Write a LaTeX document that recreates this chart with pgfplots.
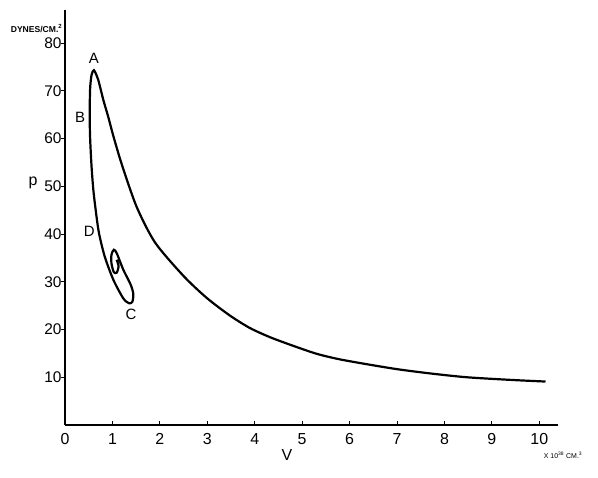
\documentclass[border=0pt]{standalone}
\usepackage{fontspec}
\setmainfont{Liberation Sans}
\usepackage{pgfplots}
\pgfplotsset{compat=1.18}
\begin{document}
\begin{tikzpicture}
\useasboundingbox (0,0) rectangle (598bp,478bp);
\begin{axis}[
  at={(65bp,53bp)}, anchor=south west,
  scale only axis, width=493.3bp, height=415.4bp,
  xmin=0, xmax=10.4, ymin=0, ymax=87,
  axis lines=left,
  axis line style={-, line width=1.4bp},
  xtick={0,1,...,10}, ytick={10,20,...,80},
  tick align=inside, major tick length=4bp,
  tick style={black, line width=1bp},
  ytick style={xshift=-4bp},
  /pgf/number format/assume math mode=true,
  yticklabel style={font=\fontsize{15.5}{15.5}\selectfont},
  xticklabel style={font=\fontsize{16}{16}\selectfont, yshift=-5bp},
  clip=false,
]
\addplot[black, line width=2.2bp, smooth, tension=0.45] coordinates {
(10.13,9.1) (9.39,9.45) (8.47,10.0) (7.7,10.8) (6.93,11.8) (5.87,13.6) (5.31,14.9)
(4.75,16.8) (4.32,18.4) (3.9,20.3) (3.48,22.9) (2.99,26.6) (2.5,31.2)
(1.9,38.2) (1.51,45.7) (1.2,54.5) (1.02,60.5) (0.91,64.6) (0.81,68) (0.70,72.3)
(0.61,74.3) (0.56,73.3) (0.53,70.5) (0.52,65) (0.53,60) (0.56,54.1) (0.60,49)
(0.66,44) (0.72,40) (0.84,35.2) (1.02,30.4) (1.23,26.5) (1.35,25.5) (1.42,25.8)
(1.44,27.5) (1.38,29.5) (1.23,32.5) (1.09,36.0) (1.03,36.7) (0.98,35.7) (0.98,33.8)
(1.03,32.0) (1.09,31.9) (1.13,33.2) (1.09,34.6)
};
\node[font=\fontsize{15}{15}\selectfont] at (axis cs:0.61,76.8) {A};
\node[font=\fontsize{15}{15}\selectfont] at (axis cs:0.32,64.5) {B};
\node[font=\fontsize{15}{15}\selectfont] at (axis cs:0.51,40.6) {D};
\node[font=\fontsize{15}{15}\selectfont] at (axis cs:1.39,23.2) {C};
\node[font=\fontsize{16}{16}\selectfont] at (axis cs:4.68,-6.3) {V};
\node[font=\fontsize{16}{16}\selectfont] at (axis cs:-0.675,50.7) {p};
\node[font=\bfseries\fontsize{8.6}{8.6}\selectfont] at (axis cs:-0.6,83.1) {DYNES/CM.\textsuperscript{2}};
\node[font=\fontsize{7}{7}\selectfont] at (axis cs:10.5,-6.3) {X 10\textsuperscript{38} CM.\textsuperscript{3}};
\end{axis}
\end{tikzpicture}
\end{document}
